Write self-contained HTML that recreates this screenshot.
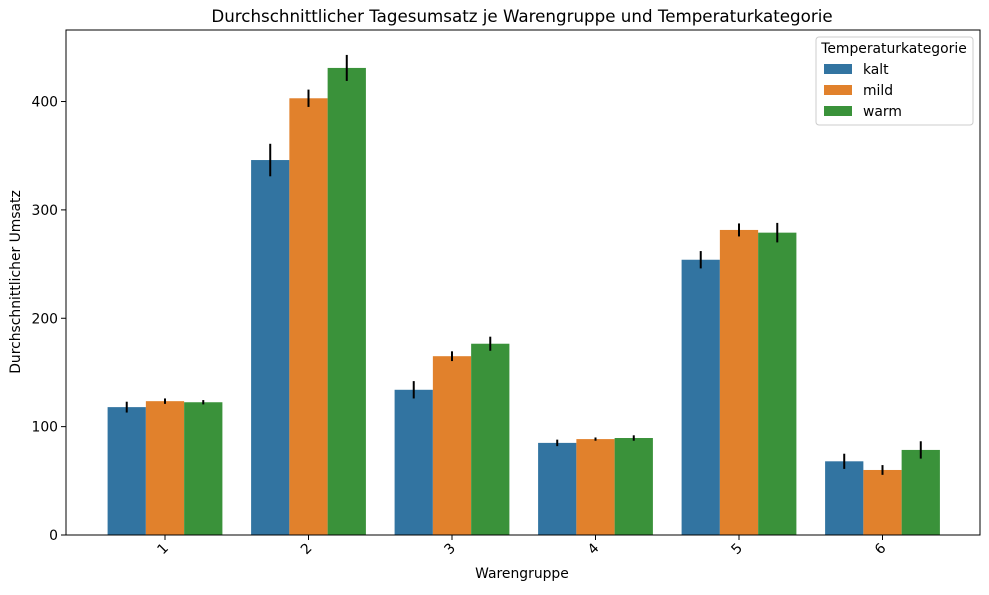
<!DOCTYPE html>
<html><head><meta charset="utf-8"><style>
body{margin:0;background:#fff;}
svg text{font-family:"DejaVu Sans","Liberation Sans",sans-serif;}
</style></head><body>
<svg id="chart" width="989" height="590" xmlns="http://www.w3.org/2000/svg">
<text x="522" y="22" font-size="16.7" text-anchor="middle">Durchschnittlicher Tagesumsatz je Warengruppe und Temperaturkategorie</text>
<g id="bars"></g>
<g id="axes"></g>
<text x="522" y="578" font-size="13.9" text-anchor="middle">Warengruppe</text>
<text transform="translate(20,282) rotate(-90)" font-size="13.9" text-anchor="middle">Durchschnittlicher Umsatz</text>
</svg>
<script>
const categories=["1","2","3","4","5","6"];
const seriesNames=["kalt","mild","warm"];
const kalt=[118,346,134,85,254,68];
const mild=[123.5,403,165,88.5,281.5,60];
const warm=[122.5,431,176.5,89.5,279,78.5];
const errKalt=[5,15,8,3,8,7];
const errMild=[2.5,8,4.5,1.5,6,4.5];
const errWarm=[2,12,6.5,2.5,9,8];
const yTicks=[0,100,200,300,400];
const colors=["#3274a1","#e1812c","#3a923a"];
const L=66,R=980,T=30,B=535,yMax=466;
const y=v=>B-v/yMax*(B-T);
const band=143.5, c0=165;
const cx=i=>c0+band*i;
const bw=band*0.8/3;
const x=(i,s)=>cx(i)-band*0.4+bw*s;
const NS="http://www.w3.org/2000/svg";
function mk(tag,attrs,parent){const e=document.createElementNS(NS,tag);for(const k in attrs)e.setAttribute(k,attrs[k]);parent.appendChild(e);return e;}
const gb=document.getElementById("bars"),ga=document.getElementById("axes");
const vals=[kalt,mild,warm],errs=[errKalt,errMild,errWarm];
vals.forEach((arr,s)=>arr.forEach((v,i)=>{
 const r=mk("rect",{x:x(i,s),y:y(v),width:bw,height:B-y(v),fill:colors[s]},gb);
 
 
 const e=mk("line",{x1:x(i,s)+bw/2,x2:x(i,s)+bw/2,y1:y(v+errs[s][i]),y2:y(v-errs[s][i]),stroke:"#000","stroke-width":2},gb);
 
 
}));
const frame=mk("rect",{x:L,y:T,width:R-L,height:B-T,fill:"none",stroke:"#000","stroke-width":1},ga);


yTicks.forEach(t=>{
 mk("line",{x1:L-5,x2:L,y1:y(t),y2:y(t),stroke:"#000"},ga);
 const tx=mk("text",{x:L-8,y:y(t)+5,"font-size":13.9,"text-anchor":"end"},ga);tx.textContent=t;
 
 
});
categories.forEach((c,i)=>{
 const px=cx(i);
 mk("line",{x1:px,x2:px,y1:B,y2:B+5,stroke:"#000"},ga);
 const tx=mk("text",{transform:`translate(${px+1},${B+17}) rotate(-45)`,"font-size":13.9,"text-anchor":"middle"},ga);tx.textContent=c;
 
 
});
const lg=mk("g",{},ga);


mk("rect",{x:816,y:37,width:157,height:88,fill:"#fff",stroke:"#ccc",rx:3},lg);
const lt=mk("text",{x:894,y:53,"font-size":13.9,"text-anchor":"middle"},lg);lt.textContent="Temperaturkategorie";


seriesNames.forEach((n,s)=>{
 const yy=64+s*21;
 mk("rect",{x:824,y:yy,width:28,height:10,fill:colors[s]},lg);
 const t=mk("text",{x:863,y:yy+10,"font-size":13.9},lg);t.textContent=n;
 
 
});
</script>
</body></html>
